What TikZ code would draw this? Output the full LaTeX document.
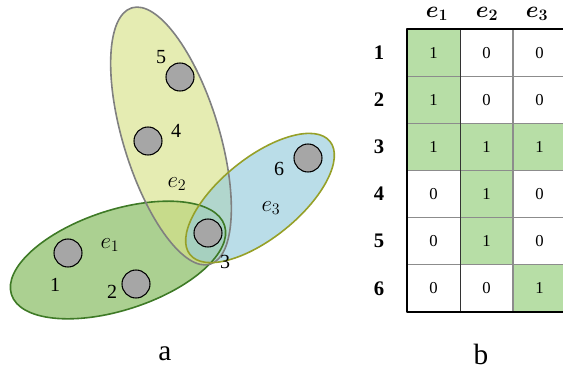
\documentclass[tikz,border=0pt]{standalone}
\usepackage{amsmath,amssymb}
\usepackage{fontspec}
\setmainfont{Liberation Serif}
\usepackage{xcolor}
\usetikzlibrary{calc,positioning}

\definecolor{setone}{RGB}{126,183,86}
\definecolor{settwo}{RGB}{215,226,137}
\definecolor{setthree}{RGB}{149,203,220}
\definecolor{lineone}{RGB}{62,122,38}
\definecolor{linetwo}{RGB}{128,128,128}
\definecolor{linethree}{RGB}{150,160,40}
\definecolor{cellgreen}{RGB}{183,222,166}

\tikzset{
  vertex/.style={circle, draw=black, fill=black!35, line width=.8pt, minimum size=21pt, inner sep=0pt},
  vlabel/.style={font=\fontsize{15}{17}\selectfont},
  elabel/.style={font=\fontsize{18}{20}\selectfont},
  cellnum/.style={font=\fontsize{12.5}{14}\selectfont},
  rowhead/.style={font=\fontsize{15.5}{17}\selectfont\bfseries},
  colhead/.style={font=\fontsize{18}{20}\selectfont},
  caption/.style={font=\fontsize{22}{24}\selectfont}
}

\begin{document}
\begin{tikzpicture}[x=.75pt, y=-.75pt, line cap=round, line join=round]
  \useasboundingbox (0,0) rectangle (563,371);

  % Hyperedges of the hypergraph.
  \coordinate (c1) at (118,260);
  \coordinate (c2) at (171,136);
  \coordinate (c3) at (260,198);
  \fill[setone, opacity=.65, rotate around={18:(c1)}] (c1) ellipse (112 and 50);
  \fill[settwo, opacity=.65, rotate around={17:(c2)}] (c2) ellipse (48 and 134);
  \fill[setthree, opacity=.65, rotate around={39:(c3)}] (c3) ellipse (90 and 40);
  \draw[lineone, line width=1.2pt, rotate around={18:(c1)}] (c1) ellipse (112 and 50);
  \draw[linetwo, line width=1.2pt, rotate around={17:(c2)}] (c2) ellipse (48 and 134);
  \draw[linethree, line width=1.2pt, rotate around={39:(c3)}] (c3) ellipse (90 and 40);
  \node[elabel] (e1) at (110,245) {$e_1$};
  \node[elabel] (e2) at (177,184) {$e_2$};
  \node[elabel] (e3) at (271,208) {$e_3$};

  % Vertices.
  \foreach \n/\x/\y/\lx/\ly in {1/68/253/55/285, 2/136/284/112/292, 3/208/233/225/262,
                               4/148/141/176/131, 5/180/77/161/57, 6/308/158/279/169}{
    \node[vertex] (v\n) at (\x,\y) {};
    \node[vlabel] (l\n) at (\lx,\ly) {\n};
  }

  % Incidence matrix.
  \foreach \r/\a/\b/\c in {1/1/0/0, 2/1/0/0, 3/1/1/1, 4/0/1/0, 5/0/1/0, 6/0/0/1}{
    \foreach \k/\v in {1/\a, 2/\b, 3/\c}{
      \pgfmathsetmacro{\cx}{407+(\k-1)*53}
      \pgfmathsetmacro{\cy}{29+(\r-1)*47.17}
      \ifnum\v=1
        \fill[cellgreen] (\cx,\cy) rectangle ++(53,47.17);
      \fi
      \node[cellnum] (m\r\k) at ($(\cx,\cy)+(26.5,23.6)$) {\v};
    }
    \node[rowhead] (r\r) at (379,{52.6+(\r-1)*47.17}) {\r};
  }
  \foreach \r in {1,...,5}
    \draw[black!45, line width=.6pt] (407,{29+\r*47.17}) -- (563,{29+\r*47.17});
  \draw[black!80, line width=.6pt] (460,29) -- (460,312);
  \draw[black!45, line width=.8pt] (513,29) -- (513,312);
  \draw[black, line width=1.8pt] (563,29) -- (407,29) -- (407,312) -- (563,312);
  \foreach \k in {1,2,3}
    \node[colhead] (h\k) at ({437+(\k-1)*50},14) {$\boldsymbol{e_{\k}}$};

  \node[caption] (a) at (165,354) {a};
  \node[caption] (b) at (481,354) {b};
\end{tikzpicture}
\end{document}
